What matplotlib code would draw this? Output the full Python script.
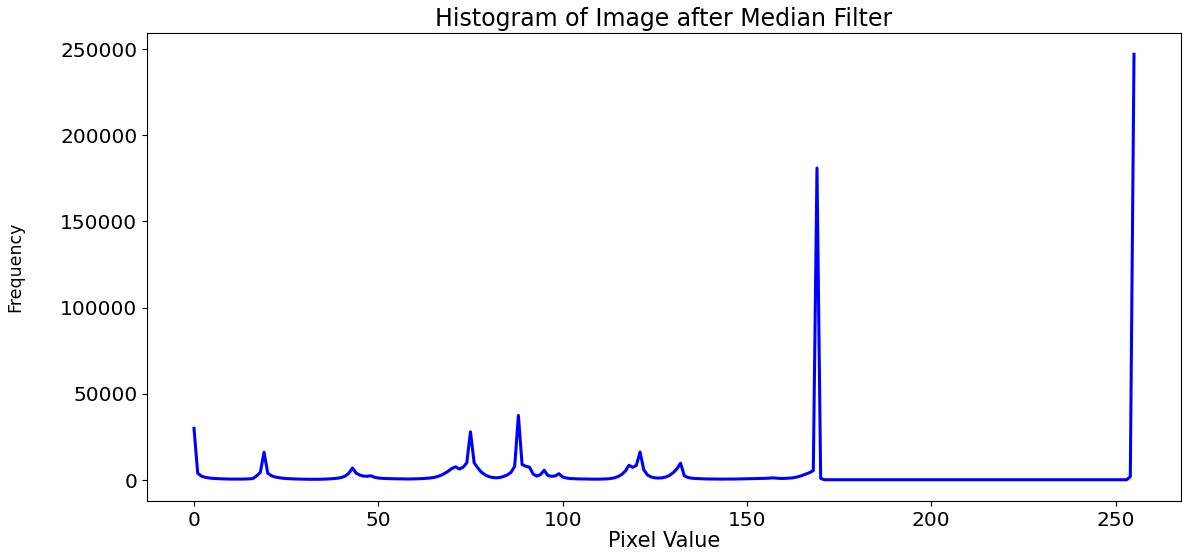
import numpy as np
import matplotlib
matplotlib.use("Agg")
import matplotlib.pyplot as plt

# histogram values (pixel value 0..255)
pixel_values = np.arange(256)
frequency = [
    30000, 4000, 2300, 1600, 1250, 1000, 850, 750, 680, 620,          # 0-9
    580, 560, 560, 580, 620, 700, 900, 2500, 4500, 16200,             # 10-19
    4000, 2500, 1800, 1400, 1100, 900, 780, 680, 600, 540,            # 20-29
    500, 460, 440, 440, 460, 520, 600, 720, 880, 1100,                # 30-39
    1500, 2300, 4000, 7000, 4000, 2900, 2300, 2200, 2500, 1600,       # 40-49
    1200, 1000, 900, 820, 760, 720, 680, 660, 650, 660,               # 50-59
    700, 760, 850, 1000, 1200, 1500, 2000, 2800, 3900, 5200,          # 60-69
    6800, 7700, 6400, 7500, 10000, 28000, 10000, 7000, 4500, 3000,    # 70-79
    2000, 1500, 1300, 1500, 2100, 3000, 4500, 8000, 37500, 9000,      # 80-89
    8000, 7500, 3500, 2300, 3200, 5700, 2600, 2200, 2400, 3700,       # 90-99
    1800, 1200, 900, 780, 700, 650, 600, 560, 540, 530,               # 100-109
    540, 580, 680, 900, 1300, 2000, 3200, 5200, 8600, 7400,           # 110-119
    8500, 16300, 6000, 3000, 1800, 1300, 1150, 1300, 1800, 2700,      # 120-129
    4300, 6500, 9800, 2500, 1500, 1100, 900, 800, 720, 660,           # 130-139
    620, 590, 570, 560, 560, 570, 590, 620, 660, 700,                 # 140-149
    750, 800, 850, 900, 950, 1000, 1100, 1300, 1100, 950,             # 150-159
    950, 1050, 1200, 1500, 2000, 2700, 3500, 4300, 5500, 181000,      # 160-169
    1000, 200, 200, 200, 200, 200, 200, 200, 200, 200,                # 170-179
    200, 200, 200, 200, 200, 200, 200, 200, 200, 200,                 # 180-189
    200, 200, 200, 200, 200, 200, 200, 200, 200, 200,                 # 190-199
    200, 200, 200, 200, 200, 200, 200, 200, 200, 200,                 # 200-209
    200, 200, 200, 200, 200, 200, 200, 200, 200, 200,                 # 210-219
    200, 200, 200, 200, 200, 200, 200, 200, 200, 200,                 # 220-229
    200, 200, 200, 200, 200, 200, 200, 200, 200, 200,                 # 230-239
    200, 200, 200, 200, 200, 200, 200, 200, 200, 200,                 # 240-249
    200, 200, 200, 200, 2000, 247000,                                 # 250-255
]

fig = plt.figure(figsize=(11.83, 5.54), dpi=100)
ax = fig.add_axes([147 / 1183, 53 / 554, (1181 - 147) / 1183, (501 - 33) / 554])

ax.plot(pixel_values, frequency, color="blue", linewidth=2.2)

ax.set_title("Histogram of Image after Median Filter", fontsize=17, pad=5)
ax.set_xlabel("Pixel Value", fontsize=15, labelpad=1)
ax.set_ylabel("Frequency", fontsize=12.5, labelpad=26)
ax.tick_params(labelsize=14.5)
ax.set_xticks([0, 50, 100, 150, 200, 250])
ax.set_yticks([0, 50000, 100000, 150000, 200000, 250000])

fig.savefig("out.png", dpi=100)
